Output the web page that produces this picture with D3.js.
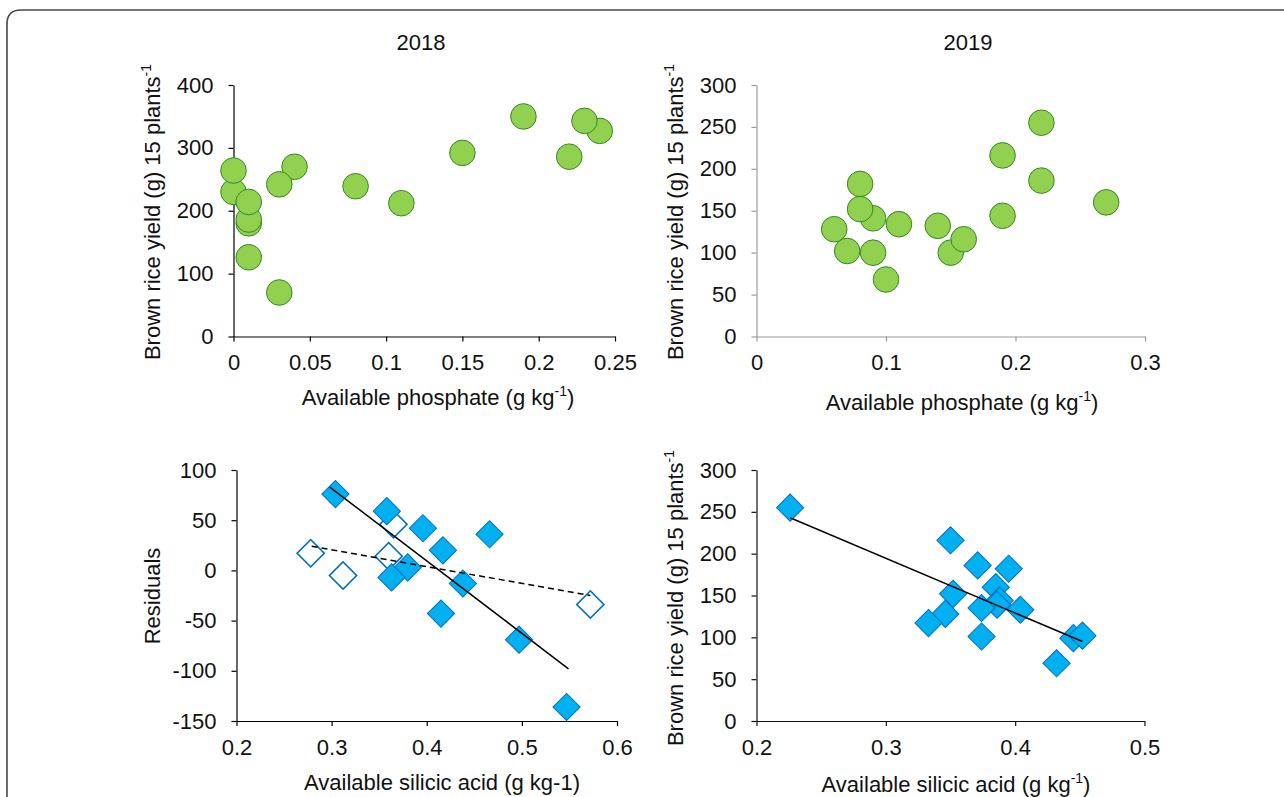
<!DOCTYPE html>
<html>
<head>
<meta charset="utf-8">
<script src="https://cdn.jsdelivr.net/npm/d3@7"></script>
<style>
  body { margin: 0; background: #fff; }
  svg { display: block; font-family: "Liberation Sans", Arial, sans-serif; }
</style>
</head>
<body>
<svg id="chart" width="1284" height="797"></svg>
<script>
// 2018 - available phosphate vs yield
const p18X = [0.19, 0.24, 0.23, 0.22, 0.15, 0.08, 0.11, 0.04, 0.03, 0.03, 0, 0, 0.01, 0.01, 0.01, 0.01];
const p18Y = [350, 327, 343, 286, 292, 239, 212, 270, 242, 70, 230, 264, 180, 186, 214, 126];

// 2019 - available phosphate vs yield
const p19X = [0.22, 0.19, 0.22, 0.27, 0.19, 0.08, 0.09, 0.08, 0.11, 0.06, 0.07, 0.09, 0.10, 0.14, 0.15, 0.16];
const p19Y = [255, 216, 186, 160, 144, 182, 141, 152, 134, 128, 102, 100, 68, 132, 100, 116];

// 2018 - residuals vs available silicic acid
const r18FilledX = [0.304, 0.358, 0.396, 0.466, 0.417, 0.380, 0.363, 0.438, 0.415, 0.497, 0.547];
const r18FilledY = [76, 59, 42, 36, 20, 3, -7, -13, -43, -69, -136];
const r18OpenX = [0.278, 0.312, 0.360, 0.365, 0.572];
const r18OpenY = [17, -5, 14, 46, -34];
const r18SolidX = [0.298, 0.549];
const r18SolidY = [83, -98];
const r18DashX = [0.279, 0.572];
const r18DashY = [24, -25];

// 2019 - yield vs available silicic acid
const s19X = [0.226, 0.350, 0.371, 0.395, 0.385, 0.352, 0.388, 0.386, 0.374, 0.404, 0.346, 0.333, 0.374, 0.445, 0.452, 0.432];
const s19Y = [255, 216, 186, 182, 160, 152, 144, 139, 135, 133, 128, 117, 101, 99, 102, 69];
const s19LineX = [0.226, 0.452];
const s19LineY = [243, 95];

// tick labels
const ticksX18P = [0, 0.05, 0.1, 0.15, 0.2, 0.25];
const ticksY18P = [0, 100, 200, 300, 400];
const ticksX19P = [0, 0.1, 0.2, 0.3];
const ticksY19 = [0, 50, 100, 150, 200, 250, 300];
const ticksX18S = [0.2, 0.3, 0.4, 0.5, 0.6];
const ticksYRes = [-150, -100, -50, 0, 50, 100];
const ticksX19S = [0.2, 0.3, 0.4, 0.5];

const svg = d3.select("#chart");
const FONT = 22;

// 外框
svg.append("path")
  .attr("d", "M7,800 L7,24 Q7,10 21,10 L1290,10")
  .attr("fill", "none")
  .attr("stroke", "#4a4a4a")
  .attr("stroke-width", 1.6);

// 年份标题
svg.append("text").attr("x", 421).attr("y", 50).attr("text-anchor", "middle")
  .attr("font-size", FONT).attr("fill", "#111").text("2018");
svg.append("text").attr("x", 968).attr("y", 50).attr("text-anchor", "middle")
  .attr("font-size", FONT).attr("fill", "#111").text("2019");

function fmt(v) {
  return String(+v.toFixed(3));
}

function addTitle(g, x, y, main, sup, tail, rotate) {
  const t = g.append("text")
    .attr("text-anchor", "middle")
    .attr("font-size", FONT)
    .attr("fill", "#111")
    .attr("transform", rotate ? `translate(${x},${y}) rotate(-90)` : `translate(${x},${y})`);
  t.append("tspan").text(main);
  if (sup) {
    t.append("tspan").attr("font-size", 14).attr("dy", -9).text(sup);
    t.append("tspan").attr("dy", 9).text(tail || "");
  }
  return t;
}

function drawPanel(cfg) {
  const x = d3.scaleLinear().domain(cfg.xDomain).range([cfg.left, cfg.right]);
  const y = d3.scaleLinear().domain(cfg.yDomain).range([cfg.bottom, cfg.top]);
  const g = svg.append("g");

  const ax = g.append("g")
    .attr("transform", `translate(0,${cfg.bottom})`)
    .call(d3.axisBottom(x).tickValues(cfg.xTicks).tickSize(5).tickPadding(13).tickSizeOuter(0).tickFormat(fmt));
  const ay = g.append("g")
    .attr("transform", `translate(${cfg.left},0)`)
    .call(d3.axisLeft(y).tickValues(cfg.yTicks).tickSize(5).tickPadding(15).tickSizeOuter(0).tickFormat(fmt));
  [ax, ay].forEach(a => {
    a.selectAll("path, line").attr("stroke", cfg.axisColor).attr("stroke-width", 1.2);
    a.selectAll("text").attr("font-size", FONT).attr("fill", "#111")
      .attr("font-family", "Liberation Sans, Arial, sans-serif");
  });
  return { g, x, y };
}

function diamond(g, xs, ys, x, y, fill, stroke, sw) {
  const sym = d3.symbol(d3.symbolSquare, 370);
  g.selectAll(null)
    .data(xs.map((v, i) => [v, ys[i]]))
    .join("path")
    .attr("d", sym)
    .attr("transform", d => `translate(${x(d[0])},${y(d[1])}) rotate(45)`)
    .attr("fill", fill)
    .attr("stroke", stroke)
    .attr("stroke-width", sw);
}

function circles(g, xs, ys, x, y) {
  g.selectAll(null)
    .data(xs.map((v, i) => [v, ys[i]]))
    .join("circle")
    .attr("cx", d => x(d[0]))
    .attr("cy", d => y(d[1]))
    .attr("r", 12.8)
    .attr("fill", "#92d050")
    .attr("stroke", "#2e8b1e")
    .attr("stroke-width", 1);
}

function line(g, xs, ys, x, y, dash) {
  g.append("path")
    .datum(xs.map((v, i) => [v, ys[i]]))
    .attr("d", d3.line().x(d => x(d[0])).y(d => y(d[1])))
    .attr("fill", "none")
    .attr("stroke", "#000")
    .attr("stroke-width", 1.5)
    .attr("stroke-dasharray", dash || null);
}

// 左上: 2018 磷酸
{
  const p = drawPanel({ xDomain: [0, 0.25], yDomain: [0, 400], left: 233.5, right: 615, top: 85, bottom: 336.5,
    xTicks: ticksX18P, yTicks: ticksY18P, axisColor: "#000" });
  circles(p.g, p18X, p18Y, p.x, p.y);
  addTitle(p.g, 438, 405, "Available phosphate (g kg", "-1", ")", false);
  addTitle(p.g, 160, 212, "Brown rice yield (g)  15 plants", "-1", "", true);
}

// 右上: 2019 磷酸
{
  const p = drawPanel({ xDomain: [0, 0.3], yDomain: [0, 300], left: 756.5, right: 1145, top: 85, bottom: 336.5,
    xTicks: ticksX19P, yTicks: ticksY19, axisColor: "#9a9a9a" });
  circles(p.g, p19X, p19Y, p.x, p.y);
  addTitle(p.g, 962, 410, "Available phosphate (g kg", "-1", ")", false);
  addTitle(p.g, 683, 212, "Brown rice yield (g)  15 plants", "-1", "", true);
}

// 左下: 2018 残差
{
  const p = drawPanel({ xDomain: [0.2, 0.6], yDomain: [-150, 100], left: 236.5, right: 617, top: 470, bottom: 721,
    xTicks: ticksX18S, yTicks: ticksYRes, axisColor: "#000" });
  diamond(p.g, r18OpenX, r18OpenY, p.x, p.y, "#fff", "#0070c0", 1.6);
  diamond(p.g, r18FilledX, r18FilledY, p.x, p.y, "#00b0f0", "#0070c0", 1);
  line(p.g, r18DashX, r18DashY, p.x, p.y, "6,4");
  line(p.g, r18SolidX, r18SolidY, p.x, p.y);
  addTitle(p.g, 442, 790, "Available silicic acid (g kg-1)", null, null, false);
  addTitle(p.g, 160, 596, "Residuals", null, null, true);
}

// 右下: 2019 硅酸
{
  const p = drawPanel({ xDomain: [0.2, 0.5], yDomain: [0, 300], left: 756.5, right: 1144.5, top: 470, bottom: 721,
    xTicks: ticksX19S, yTicks: ticksY19, axisColor: "#111" });
  diamond(p.g, s19X, s19Y, p.x, p.y, "#00b0f0", "#0070c0", 1);
  line(p.g, s19LineX, s19LineY, p.x, p.y);
  addTitle(p.g, 956, 792, "Available silicic acid (g kg", "-1", ")", false);
  addTitle(p.g, 683, 598, "Brown rice yield (g)  15 plants", "-1", "", true);
}
</script>
</body>
</html>
